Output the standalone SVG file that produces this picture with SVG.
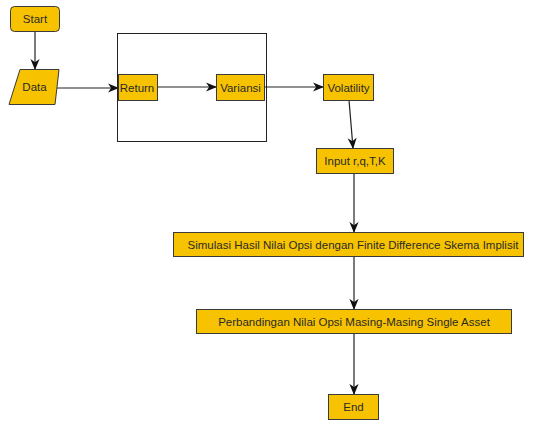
<svg xmlns="http://www.w3.org/2000/svg" width="533" height="421" viewBox="0 0 533 421">
<style>
.box{fill:#F7C300;stroke:#3a3a3a;stroke-width:1}
.t{font-family:"Liberation Sans",Arial,sans-serif;font-size:11.5px;fill:#2a2a2a;text-anchor:middle;dominant-baseline:central}
.c{stroke:#222;stroke-width:1.2;fill:none;marker-end:url(#ah)}
</style>
<defs>
<marker id="ah" viewBox="0 0 12 10" refX="11" refY="5" markerWidth="11" markerHeight="10" markerUnits="userSpaceOnUse" orient="auto">
<path d="M0,0 L12,5 L0,10 L3.5,5 z" fill="#111"/>
</marker>
</defs>
<rect width="533" height="421" fill="#fff"/>
<g id="container"><rect x="117.5" y="33.5" width="149" height="108" fill="none" stroke="#222" stroke-width="1"/></g>
<g id="connectors">
<line class="c" x1="35" y1="31" x2="35" y2="69"/>
<line class="c" x1="57" y1="88" x2="118" y2="88"/>
<line class="c" x1="158" y1="87" x2="216" y2="87"/>
<line class="c" x1="265" y1="87" x2="323" y2="87"/>
<line class="c" x1="349" y1="100" x2="353" y2="148"/>
<line class="c" x1="354" y1="173" x2="354" y2="232"/>
<line class="c" x1="354" y1="256" x2="354" y2="309"/>
<line class="c" x1="354" y1="333" x2="354" y2="394"/>
</g>
<g id="start"><rect class="box" x="10.5" y="6.5" width="49" height="25" rx="4"/><text class="t" x="35" y="19">Start</text></g>
<g id="data"><polygon class="box" points="20,69.5 59,69.5 55,104.5 9,104.5"/><text class="t" x="34.5" y="87">Data</text></g>
<g id="return"><rect class="box" x="118.5" y="74.5" width="39" height="26"/><text class="t" x="137" y="87.5">Return</text></g>
<g id="variansi"><rect class="box" x="216.5" y="74.5" width="48" height="26"/><text class="t" x="240.5" y="87.5">Variansi</text></g>
<g id="volatility"><rect class="box" x="323.5" y="74.5" width="50" height="26"/><text class="t" x="348.5" y="87.5">Volatility</text></g>
<g id="input"><rect class="box" x="316.5" y="148.5" width="77" height="25"/><text class="t" x="355" y="161">Input r,q,T,K</text></g>
<g id="simulasi"><rect class="box" x="173.5" y="232.5" width="350" height="24"/><text class="t" x="353" y="244.5">Simulasi Hasil Nilai Opsi dengan Finite Difference Skema Implisit</text></g>
<g id="perbandingan"><rect class="box" x="196.5" y="309.5" width="315" height="24"/><text class="t" x="354" y="321.5">Perbandingan Nilai Opsi Masing-Masing Single Asset</text></g>
<g id="end"><rect class="box" x="328.5" y="394.5" width="50" height="25"/><text class="t" x="353.5" y="407">End</text></g>
</svg>
